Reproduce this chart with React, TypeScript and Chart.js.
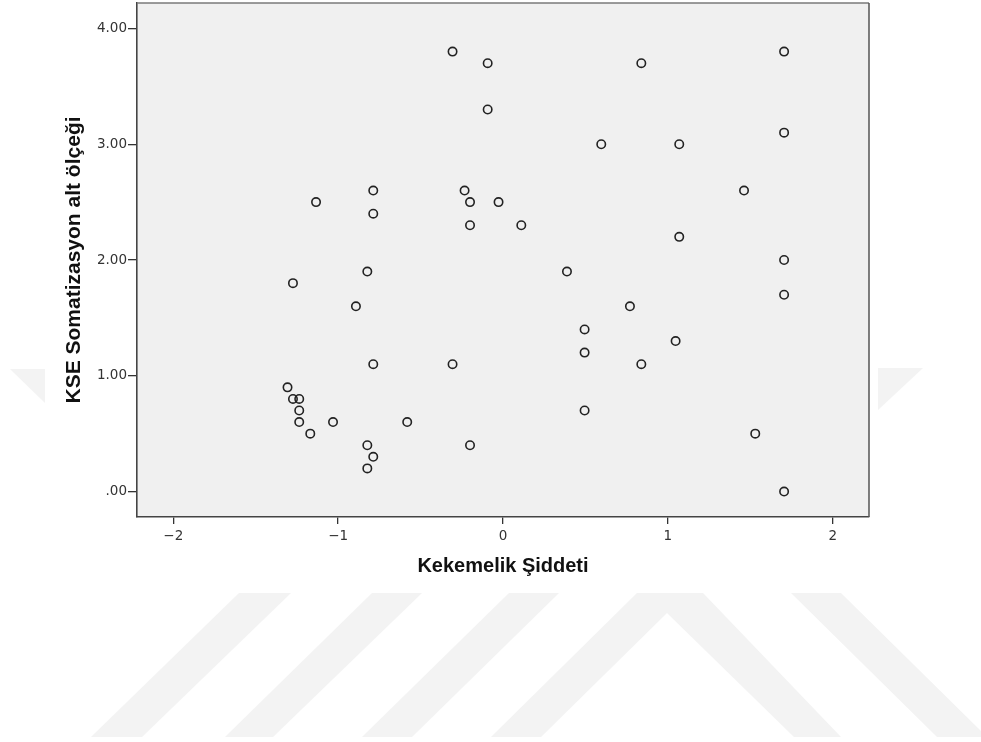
import React, { useEffect, useRef } from "react";
import { Chart, registerables } from "chart.js";

Chart.register(...registerables);

// Kekemelik Şiddeti (x) values
const xValues = [
  -0.306, -0.093, -0.093, 0.839, 1.705, 1.705, 0.596, 1.069, 1.462, -1.134,
  -0.787, -0.787, -0.233, -0.2, -0.027, -0.2, 0.111, 1.069, 1.705, -0.823,
  0.388, -1.274, 1.705, -0.892, 0.77, 0.495, 1.047, 0.495, -0.787, -0.306,
  0.839, -1.307, -1.274, -1.236, -1.236, -1.236, -1.031, -0.581, -1.169, 0.495,
  1.53, -0.823, -0.2, -0.787, -0.823, 1.705,
];

// KSE Somatizasyon alt ölçeği (y) values
const yValues = [
  3.8, 3.7, 3.3, 3.7, 3.8, 3.1, 3.0, 3.0, 2.6, 2.5,
  2.6, 2.4, 2.6, 2.5, 2.5, 2.3, 2.3, 2.2, 2.0, 1.9,
  1.9, 1.8, 1.7, 1.6, 1.6, 1.4, 1.3, 1.2, 1.1, 1.1,
  1.1, 0.9, 0.8, 0.8, 0.7, 0.6, 0.6, 0.6, 0.5, 0.7,
  0.5, 0.4, 0.4, 0.3, 0.2, 0.0,
];

const xTicks = [-2, -1, 0, 1, 2];
const xTickLabels = ["\u22122", "\u22121", "0", "1", "2"];
const yTicks = [0, 1, 2, 3, 4];
const yTickLabels = [".00", "1.00", "2.00", "3.00", "4.00"];

const xTitle = "Kekemelik Şiddeti";
const yTitle = "KSE Somatizasyon alt ölçeği";

const backgroundPlugin = {
  id: "spssBackground",
  beforeDraw(chart: any) {
    const { ctx, chartArea } = chart;
    ctx.save();
    ctx.fillStyle = "#ffffff";
    ctx.fillRect(0, 0, chart.width, chart.height);
    // faint watermark stripes
    ctx.fillStyle = "#f3f3f3";
    const polys: number[][][] = [
      [[239, 593], [291, 593], [142, 737], [91, 737]],
      [[372, 593], [422, 593], [273, 737], [225, 737]],
      [[509, 593], [559, 593], [412, 737], [362, 737]],
      [[637, 593], [703, 593], [841, 737], [794, 737], [667, 613], [541, 737], [491, 737]],
      [[791, 593], [841, 593], [987, 737], [937, 737]],
      [[10, 369], [45, 369], [45, 403]],
      [[878, 368], [923, 368], [878, 410]],
    ];
    for (const p of polys) {
      ctx.beginPath();
      ctx.moveTo(p[0][0], p[0][1]);
      for (let i = 1; i < p.length; i++) ctx.lineTo(p[i][0], p[i][1]);
      ctx.closePath();
      ctx.fill();
    }
    ctx.fillStyle = "#f0f0f0";
    ctx.fillRect(
      chartArea.left,
      chartArea.top,
      chartArea.right - chartArea.left,
      chartArea.bottom - chartArea.top
    );
    ctx.restore();
  },
  afterDraw(chart: any) {
    const { ctx, chartArea } = chart;
    ctx.save();
    ctx.lineWidth = 1.5;
    ctx.strokeStyle = "#7a7a7a";
    ctx.beginPath();
    ctx.moveTo(chartArea.left, chartArea.top);
    ctx.lineTo(chartArea.right, chartArea.top);
    ctx.stroke();
    ctx.strokeStyle = "#555555";
    ctx.beginPath();
    ctx.moveTo(chartArea.right, chartArea.top);
    ctx.lineTo(chartArea.right, chartArea.bottom);
    ctx.stroke();
    ctx.restore();
  },
};

export default function App() {
  const canvasRef = useRef<HTMLCanvasElement | null>(null);

  useEffect(() => {
    document.body.style.margin = "0";
    const canvas = canvasRef.current;
    if (!canvas) return;
    const points = xValues.map((x, i) => ({ x, y: yValues[i] }));
    const tickFont = { family: "'DejaVu Sans', sans-serif", size: 13.5 };
    const chart = new Chart(canvas, {
      type: "scatter",
      data: {
        datasets: [
          {
            data: points,
            pointRadius: 4.2,
            pointHoverRadius: 4.2,
            pointBorderWidth: 1.6,
            borderColor: "#222222",
            backgroundColor: "rgba(0,0,0,0)",
          },
        ],
      },
      options: {
        responsive: false,
        animation: false,
        devicePixelRatio: 1,
        layout: { autoPadding: false, padding: { left: 0, top: 3, right: 112, bottom: 164 } },
        plugins: {
          legend: { display: false },
          tooltip: { enabled: false },
        },
        scales: {
          x: {
            type: "linear",
            position: "bottom",
            min: -2.22,
            max: 2.22,
            afterBuildTicks: (scale: any) => {
              scale.ticks = xTicks.map((v) => ({ value: v }));
            },
            afterFit: (scale: any) => {
              scale.height = 61;
              scale.paddingLeft = 0;
              scale.paddingRight = 0;
              scale.paddingTop = 0;
              scale.paddingBottom = 0;
            },
            ticks: {
              padding: 4,
              color: "#333333",
              font: tickFont,
              maxRotation: 0,
              autoSkip: false,
              callback: (_v: any, i: number) => xTickLabels[i],
            },
            grid: {
              display: true,
              drawOnChartArea: false,
              drawTicks: true,
              tickLength: 7,
              color: "#333333",
              lineWidth: 1.3,
            },
            border: { display: true, color: "#444444", width: 1.6 },
            title: {
              display: true,
              text: xTitle,
              color: "#111111",
              font: { family: "'Liberation Sans', Arial, sans-serif", size: 20, weight: "bold" },
              padding: { top: 0, bottom: 0 },
            },
          },
          y: {
            type: "linear",
            position: "left",
            min: -0.22,
            max: 4.22,
            afterBuildTicks: (scale: any) => {
              scale.ticks = yTicks.map((v) => ({ value: v }));
            },
            afterFit: (scale: any) => {
              scale.width = 137;
              scale.paddingLeft = 0;
              scale.paddingRight = 0;
              scale.paddingTop = 0;
              scale.paddingBottom = 0;
            },
            ticks: {
              padding: 1,
              color: "#333333",
              font: tickFont,
              autoSkip: false,
              callback: (_v: any, i: number) => yTickLabels[i],
            },
            grid: {
              display: true,
              drawOnChartArea: false,
              drawTicks: true,
              tickLength: 9,
              color: "#333333",
              lineWidth: 1.3,
            },
            border: { display: true, color: "#444444", width: 1.6 },
            title: {
              display: true,
              text: yTitle,
              color: "#111111",
              font: { family: "'Liberation Sans', Arial, sans-serif", size: 21, weight: "bold" },
              padding: { top: 62, bottom: 0 },
            },
          },
        },
      },
      plugins: [backgroundPlugin],
    });
    return () => chart.destroy();
  }, []);

  return (
    <div style={{ width: 981, height: 742 }}>
      <canvas ref={canvasRef} width={981} height={742} style={{ display: "block" }} />
    </div>
  );
}
